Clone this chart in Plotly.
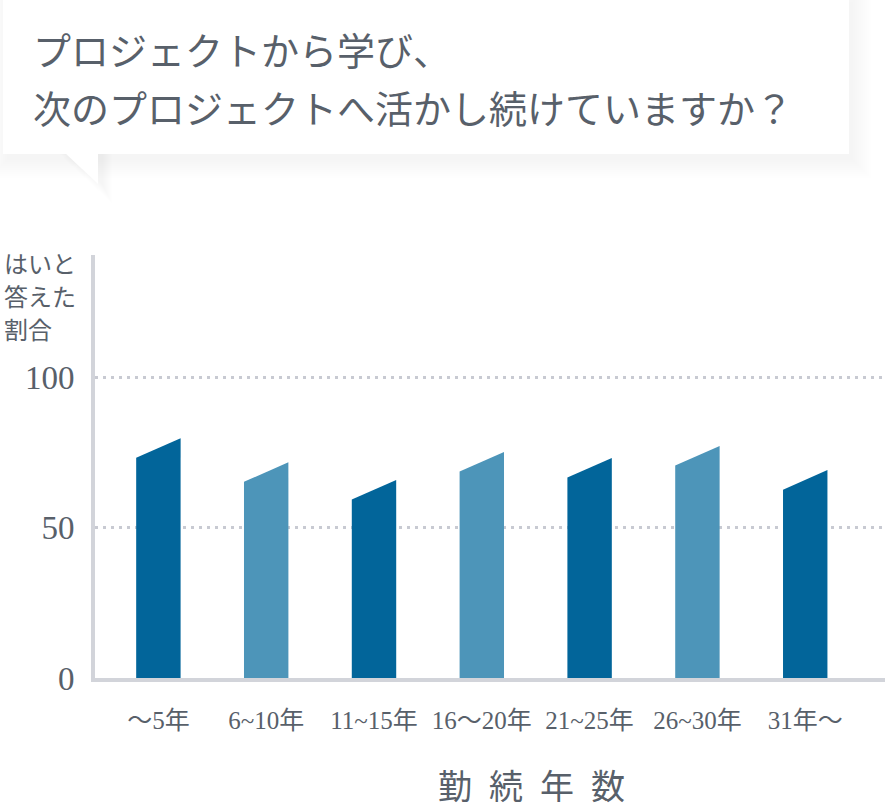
import plotly.graph_objects as go

# ---- data ----
categories = ["〜5年", "6~10年", "11~15年", "16〜20年", "21~25年", "26~30年", "31年〜"]
values = [76.5, 68.5, 62.6, 71.9, 69.9, 73.9, 65.9]   # % answering "yes" (mid of slanted top)
y_ticks = [0, 50, 100]
y_tick_labels = ["0", "50", "100"]
title_lines = ["プロジェクトから学び、", "次のプロジェクトへ活かし続けていますか？"]
y_title_lines = ["はいと", "答えた", "割合"]
x_title = "\u2002".join("勤続年数")

# ---- style ----
DARK = "#02659a"
LIGHT = "#4d95b9"
bar_colors = [DARK if i % 2 == 0 else LIGHT for i in range(len(categories))]
TEXT = "#58606a"
AXIS = "#d2d4da"
GRID = "#c8cad2"
SERIF = "Liberation Serif, Noto Sans CJK JP, serif"
CJK = "Noto Sans CJK JP, sans-serif"

W, H = 885, 808
PL, PR, PT, PB = 95, 885, 255, 678
HALF_W = 0.206      # half bar width in category units
SLANT = 3.25        # half of the top slant in value units


def px(x):
    return (x - PL) / (PR - PL)


def py(y):
    return (PB - y) / (PB - PT)


fig = go.Figure()
for i, (cat, v) in enumerate(zip(categories, values)):
    xs = [i - HALF_W, i - HALF_W, i + HALF_W, i + HALF_W, i - HALF_W]
    ys = [0, v - SLANT, v + SLANT, 0, 0]
    fig.add_trace(go.Scatter(
        x=xs, y=ys, mode="lines", fill="toself", fillcolor=bar_colors[i],
        line=dict(width=0, color=bar_colors[i]), hoverinfo="skip",
        showlegend=False, name=cat))

shapes = []
# speech-bubble shadow
for k in range(1, 11):
    e = k * 2
    shapes.append(dict(type="rect", xref="paper", yref="paper",
                       x0=px(3 - e + 6), x1=px(849 + e + 2),
                       y0=py(0 - e + 4), y1=py(154 + e + 4),
                       fillcolor="rgba(90,100,110,0.009)", line=dict(width=0)))
    path = "M {} {} L {} {} L {} {} Z".format(
        px(65 - e / 2 + 4), py(154), px(98 + e / 2 + 4), py(154), px(98 + e / 2 + 4), py(183 + e))
    shapes.append(dict(type="path", xref="paper", yref="paper", path=path,
                       fillcolor="rgba(90,100,110,0.009)", line=dict(width=0)))
# bubble body
shapes.append(dict(type="rect", xref="paper", yref="paper",
                   x0=px(3), x1=px(849), y0=py(0), y1=py(154),
                   fillcolor="white", line=dict(width=0)))
shapes.append(dict(type="path", xref="paper", yref="paper",
                   path="M {} {} L {} {} L {} {} Z".format(px(65), py(153), px(98), py(153), px(98), py(184)),
                   fillcolor="white", line=dict(width=0)))

annotations = [
    dict(text=title_lines[0], xref="paper", yref="paper", x=px(31), y=py(49),
         xanchor="left", yanchor="middle", showarrow=False,
         font=dict(family=CJK, size=38, color=TEXT)),
    dict(text=title_lines[1], xref="paper", yref="paper", x=px(31), y=py(106),
         xanchor="left", yanchor="middle", showarrow=False,
         font=dict(family=CJK, size=38, color=TEXT)),
    dict(text=x_title, xref="paper", yref="paper", x=px(531), y=py(784),
         xanchor="center", yanchor="middle", showarrow=False,
         font=dict(family=CJK, size=34, color=TEXT)),
]
for line, yc in zip(y_title_lines, [262, 295, 328]):
    annotations.append(dict(text=line, xref="paper", yref="paper", x=px(2), y=py(yc),
                            xanchor="left", yanchor="middle", showarrow=False,
                            font=dict(family=CJK, size=24, color=TEXT)))

fig.update_layout(
    width=W, height=H,
    margin=dict(l=PL, r=W - PR, t=PT, b=H - PB, pad=0),
    paper_bgcolor="white", plot_bgcolor="white",
    shapes=shapes, annotations=annotations,
    showlegend=False,
    xaxis=dict(
        range=[-0.588, 6.74], tickmode="array",
        tickvals=list(range(len(categories))), ticktext=categories,
        showgrid=False, zeroline=False, showline=True, linecolor=AXIS, linewidth=4,
        ticks="", ticklabelstandoff=17,
        tickfont=dict(family=SERIF, size=25, color=TEXT), fixedrange=True),
    yaxis=dict(
        range=[0, 140.7], tickmode="array", tickvals=y_ticks, ticktext=y_tick_labels,
        showgrid=True, gridcolor=GRID, gridwidth=3, griddash="3px,5px",
        zeroline=False, showline=True, linecolor=AXIS, linewidth=4,
        ticks="", ticklabelstandoff=10,
        tickfont=dict(family=SERIF, size=33, color=TEXT), fixedrange=True),
)

fig.write_html("out.html", config={"displayModeBar": False},
               post_script="document.body.style.margin='0';document.body.style.overflow='hidden';")
